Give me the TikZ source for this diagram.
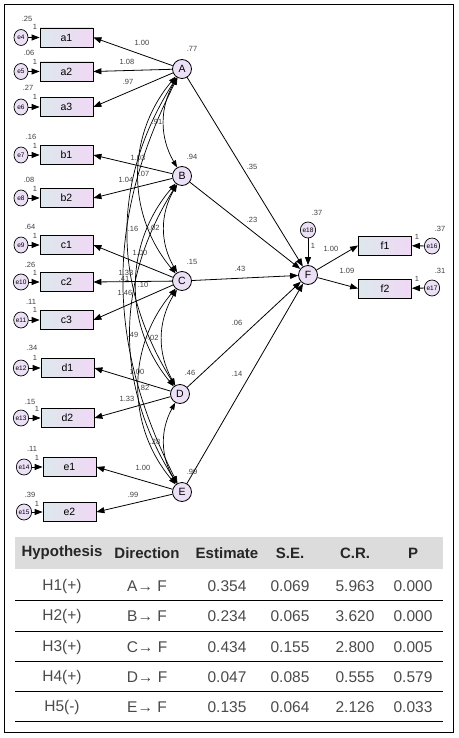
\documentclass[tikz,border=0pt]{standalone}
\usepackage{fontspec}
\setmainfont{Liberation Sans}
\usetikzlibrary{arrows.meta,shapes.geometric}
\definecolor{latfill}{HTML}{ECE0F6}
\definecolor{boxleft}{HTML}{DDE8EC}
\definecolor{boxright}{HTML}{F0D8F5}
\definecolor{tabtext}{HTML}{4A4A4A}
\definecolor{tabhead}{HTML}{DCDCDC}

\begin{document}
\begin{tikzpicture}[x=1pt,y=-1pt,
  obs/.style={draw, line width=0.8pt, left color=boxleft, right color=boxright,
    minimum width=53pt, minimum height=19pt, inner sep=0pt, font=\fontsize{10.5}{10.5}\selectfont},
  lat/.style={circle, draw, line width=0.8pt, fill=latfill, minimum size=19pt,
    inner sep=0pt, font=\fontsize{10.5}{10.5}\selectfont},
  err/.style={ellipse, draw, line width=0.7pt, fill=latfill, minimum width=14pt,
    minimum height=16pt, inner sep=0pt, font=\fontsize{6.5}{6.5}\selectfont},
  lbl/.style={font=\fontsize{7.5}{7.5}\selectfont, text=black!75, inner sep=0pt},
  path/.style={-{Triangle[length=8pt,width=6pt]}, line width=0.8pt},
  cov/.style={{Triangle[length=7pt,width=5pt]}-{Triangle[length=7pt,width=5pt]}, line width=0.7pt},
  cell/.style={font=\fontsize{15.5}{15.5}\selectfont, text=tabtext},
  head/.style={font=\fontsize{15}{15}\selectfont\bfseries, text=black!85}]
\useasboundingbox (0,0) rectangle (458,738);
% frame
\draw[line width=0.8pt] (4,4) rectangle (453,732);
% latent variables
\node[lat] (A) at (182,69) {A};
\node[lat] (B) at (182,176) {B};
\node[lat] (C) at (182,281) {C};
\node[lat] (D) at (180,394) {D};
\node[lat] (E) at (182,492) {E};
\node[lat] (F) at (308,275) {F};
% indicators
\node[obs] (a1) at (66.5,37.5) {a1};
\node[obs] (a2) at (66.5,71.5) {a2};
\node[obs] (a3) at (66.5,107) {a3};
\node[obs] (b1) at (66.5,155) {b1};
\node[obs] (b2) at (66.5,198) {b2};
\node[obs] (c1) at (66.5,245) {c1};
\node[obs] (c2) at (66.5,282) {c2};
\node[obs] (c3) at (66.5,320) {c3};
\node[obs] (d1) at (67.5,368) {d1};
\node[obs] (d2) at (67.5,418) {d2};
\node[obs] (e1) at (69.5,467) {e1};
\node[obs] (e2) at (69.5,512) {e2};
\node[obs] (f1) at (385,245.5) {f1};
\node[obs] (f2) at (385,288.5) {f2};
% error terms
\node[err] (e4) at (21,37.5) {e4};
\node[err] (e5) at (21,71.5) {e5};
\node[err] (e6) at (21,107) {e6};
\node[err] (e7) at (21,155) {e7};
\node[err] (e8) at (21,198) {e8};
\node[err] (e9) at (21,245) {e9};
\node[err] (e10) at (21,282) {e10};
\node[err] (e11) at (21,320) {e11};
\node[err] (e12) at (21,368) {e12};
\node[err] (e13) at (21,418) {e13};
\node[err] (e14) at (24,467) {e14};
\node[err] (e15) at (24,512) {e15};
\node[err] (e16) at (432,246) {e16};
\node[err] (e17) at (432,288) {e17};
\node[err] (e18) at (308,230) {e18};
% error paths
\draw[path] (e4) -- (a1);
\draw[path] (e5) -- (a2);
\draw[path] (e6) -- (a3);
\draw[path] (e7) -- (b1);
\draw[path] (e8) -- (b2);
\draw[path] (e9) -- (c1);
\draw[path] (e10) -- (c2);
\draw[path] (e11) -- (c3);
\draw[path] (e12) -- (d1);
\draw[path] (e13) -- (d2);
\draw[path] (e14) -- (e1);
\draw[path] (e15) -- (e2);
\draw[path] (e16) -- (f1);
\draw[path] (e17) -- (f2);
\draw[path] (e18) -- (F);
% loadings
\draw[path] (A) -- (a1.east);
\draw[path] (A) -- (a2.east);
\draw[path] (A) -- (a3.east);
\draw[path] (B) -- (b1.east);
\draw[path] (B) -- (b2.east);
\draw[path] (C) -- (c1.east);
\draw[path] (C) -- (c2.east);
\draw[path] (C) -- (c3.east);
\draw[path] (D) -- (d1.east);
\draw[path] (D) -- (d2.east);
\draw[path] (E) -- (e1.east);
\draw[path] (E) -- (e2.east);
\draw[path] (F) -- (f1.west);
\draw[path] (F) -- (f2.west);
% structural paths
\draw[path] (A) -- (F);
\draw[path] (B) -- (F);
\draw[path] (C) -- (F);
\draw[path] (D) -- (F);
\draw[path] (E) -- (F);
% covariances
\draw[cov] (A) to[bend right=30] (B);
\draw[cov] (B) to[bend right=30] (C);
\draw[cov] (C) to[bend right=30] (D);
\draw[cov] (D) to[bend right=30] (E);
\draw[cov] (A) to[bend right=40] (C);
\draw[cov] (B) to[bend right=40] (D);
\draw[cov] (C) to[bend right=40] (E);
\draw[cov] (A) to[bend right=32] (D);
\draw[cov] (B) to[bend right=32] (E);
\draw[cov] (A) to[bend right=27] (E);
% variance labels
\node[lbl] (vA) at (192,49) {.77};
\node[lbl] (vB) at (192,157) {.94};
\node[lbl] (vC) at (192,262) {.15};
\node[lbl] (vD) at (190,373) {.46};
\node[lbl] (vE) at (192,472) {.99};
\node[lbl] (vF) at (317,213) {.37};
\node[lbl] (v4) at (27,19) {.25};
\node[lbl] (v5) at (29,53) {.06};
\node[lbl] (v6) at (28,88) {.27};
\node[lbl] (v7) at (31,137) {.16};
\node[lbl] (v8) at (29,180) {.08};
\node[lbl] (v9) at (30,227) {.64};
\node[lbl] (v10) at (30,265) {.26};
\node[lbl] (v11) at (31,302) {.11};
\node[lbl] (v12) at (32,348) {.34};
\node[lbl] (v13) at (30,402) {.15};
\node[lbl] (v14) at (32,449) {.11};
\node[lbl] (v15) at (30,495) {.39};
\node[lbl] (v16) at (440,229) {.37};
\node[lbl] (v17) at (440,271) {.31};
% fixed weights
\node[lbl] (w4) at (35,27) {1};
\node[lbl] (w5) at (35,62) {1};
\node[lbl] (w6) at (35,97) {1};
\node[lbl] (w7) at (35,146) {1};
\node[lbl] (w8) at (35,189) {1};
\node[lbl] (w9) at (35,236) {1};
\node[lbl] (w10) at (35,273) {1};
\node[lbl] (w11) at (35,310) {1};
\node[lbl] (w12) at (35,358) {1};
\node[lbl] (w13) at (37,409) {1};
\node[lbl] (w14) at (37,458) {1};
\node[lbl] (w15) at (37,504) {1};
\node[lbl] (w16) at (417,237) {1};
\node[lbl] (w17) at (417,279) {1};
\node[lbl] (w18) at (313,246) {1};
% loading estimates
\node[lbl] (la1) at (142,43) {1.00};
\node[lbl] (la2) at (127,62) {1.08};
\node[lbl] (la3) at (128,82) {.97};
\node[lbl] (lb1) at (138,158) {1.03};
\node[lbl] (lb2) at (126,180) {1.04};
\node[lbl] (lc1) at (140,253) {1.00};
\node[lbl] (lc2) at (126,273) {1.33};
\node[lbl] (lc3) at (125,293) {1.46};
\node[lbl] (ld1) at (137,372) {1.00};
\node[lbl] (ld2) at (127,399) {1.33};
\node[lbl] (le1) at (143,468) {1.00};
\node[lbl] (le2) at (133,495) {.99};
\node[lbl] (lf1) at (331,249) {1.00};
\node[lbl] (lf2) at (347,271) {1.09};
% covariance estimates
\node[lbl] (kAB) at (157,122) {.91};
\node[lbl] (k1) at (144,174) {.07};
\node[lbl] (k2) at (133,229) {.16};
\node[lbl] (k3) at (153,228) {-.02};
\node[lbl] (k4) at (124,279) {.41};
\node[lbl] (k5) at (143,285) {.10};
\node[lbl] (k6) at (133,335) {.49};
\node[lbl] (k7) at (152,338) {-.02};
\node[lbl] (k8) at (144,388) {.82};
\node[lbl] (k9) at (155,442) {.28};
% structural estimates
\node[lbl] (sA) at (252,167) {.35};
\node[lbl] (sB) at (252,220) {.23};
\node[lbl] (sC) at (240,269) {.43};
\node[lbl] (sD) at (237,323) {.06};
\node[lbl] (sE) at (237,374) {.14};
% table
\fill[tabhead] (15,537) rectangle (443,569);
\draw[line width=0.8pt] (15,600) -- (443,600);
\draw[line width=0.8pt] (15,631) -- (443,631);
\draw[line width=0.8pt] (15,661) -- (443,661);
\draw[line width=0.8pt] (15,691) -- (443,691);
\draw[line width=0.8pt] (15,721) -- (443,721);
\node[head] (th1) at (62,553) {Hypothesis};
\node[head] (th2) at (147,553) {Direction};
\node[head] (th3) at (227,553) {Estimate};
\node[head] (th4) at (290,553) {S.E.};
\node[head] (th5) at (355,553) {C.R.};
\node[head] (th6) at (413,553) {P};
\node[cell] (h1) at (62,586) {H1(+)};
\node[cell] (d1r) at (147,586) {A→ F};
\node[cell] (est1) at (227,586) {0.354};
\node[cell] (se1) at (290,586) {0.069};
\node[cell] (cr1) at (355,586) {5.963};
\node[cell] (p1) at (413,586) {0.000};
\node[cell] (h2) at (62,616) {H2(+)};
\node[cell] (d2r) at (147,616) {B→ F};
\node[cell] (est2) at (227,616) {0.234};
\node[cell] (se2) at (290,616) {0.065};
\node[cell] (cr2) at (355,616) {3.620};
\node[cell] (p2) at (413,616) {0.000};
\node[cell] (h3) at (62,647) {H3(+)};
\node[cell] (d3r) at (147,647) {C→ F};
\node[cell] (est3) at (227,647) {0.434};
\node[cell] (se3) at (290,647) {0.155};
\node[cell] (cr3) at (355,647) {2.800};
\node[cell] (p3) at (413,647) {0.005};
\node[cell] (h4) at (62,677) {H4(+)};
\node[cell] (d4r) at (147,677) {D→ F};
\node[cell] (est4) at (227,677) {0.047};
\node[cell] (se4) at (290,677) {0.085};
\node[cell] (cr4) at (355,677) {0.555};
\node[cell] (p4) at (413,677) {0.579};
\node[cell] (h5) at (62,707) {H5(-)};
\node[cell] (d5r) at (147,707) {E→ F};
\node[cell] (est5) at (227,707) {0.135};
\node[cell] (se5) at (290,707) {0.064};
\node[cell] (cr5) at (355,707) {2.126};
\node[cell] (p5) at (413,707) {0.033};
\end{tikzpicture}
\end{document}
